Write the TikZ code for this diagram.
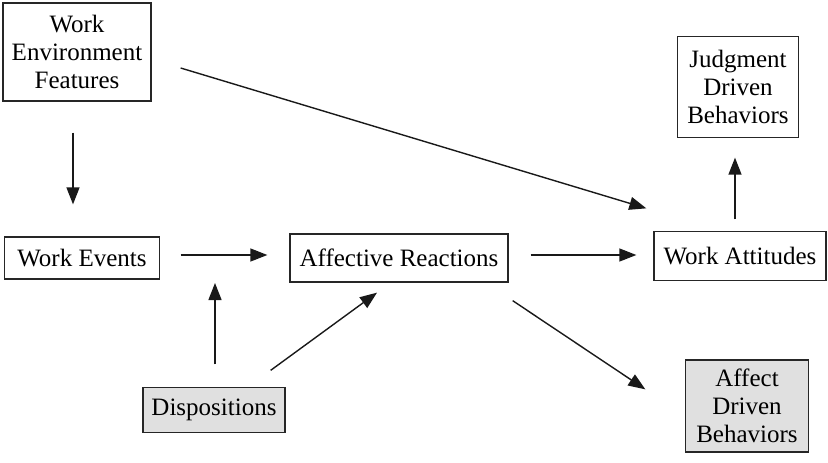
\documentclass[tikz,border=0pt]{standalone}
\usepackage{fontspec}
\setmainfont{Liberation Serif}
\usetikzlibrary{arrows.meta}
\begin{document}
\begin{tikzpicture}[x=1pt,y=-1pt,
  box/.style={draw=black!85,line width=1.3pt,inner sep=0pt,align=center,
    font=\fontsize{25}{28}\selectfont},
  shaded/.style={box,fill=black!12},
  arr/.style={line width=1.4pt,draw=black!90,-{Triangle[length=17pt,width=13pt]}}]
\useasboundingbox (0,0) rectangle (828,463);
\node[box,minimum width=148pt,minimum height=98pt] (wef) at (77,52) {Work\\Environment\\Features};
\node[box,minimum width=121pt,minimum height=101pt] (jdb) at (738,87) {Judgment\\Driven\\Behaviors};
\node[box,minimum width=155pt,minimum height=42pt] (we) at (82,258) {Work Events};
\node[box,minimum width=218pt,minimum height=48pt] (ar) at (399,258) {Affective Reactions};
\node[box,minimum width=172pt,minimum height=49pt] (wa) at (740,256) {Work Attitudes};
\node[shaded,minimum width=142pt,minimum height=45pt] (dis) at (214,410) {Dispositions};
\node[shaded,minimum width=123pt,minimum height=92pt] (adb) at (747,406) {Affect\\Driven\\Behaviors};
\coordinate (mid) at (215,255);
\draw[arr] ([xshift=-4pt,yshift=-31pt]wef.south) -- ([xshift=-9pt,yshift=32pt]we.north);
\draw[arr] ([xshift=29pt,yshift=-16pt]wef.east) -- ([xshift=-7pt,yshift=22.5pt]wa.north west);
\draw[arr] ([xshift=20.5pt,yshift=3pt]we.east) -- ([xshift=-22pt,yshift=3pt]ar.west);
\draw[arr] ([xshift=22pt,yshift=3pt]ar.east) -- ([xshift=-17pt,yshift=1pt]wa.west);
\draw[arr] ([xshift=-5pt,yshift=11.5pt]wa.north) -- ([xshift=-3pt,yshift=-19.5pt]jdb.south);
\draw[arr,shorten >=28pt] ([xshift=1pt,yshift=22.5pt]dis.north) -- (mid);
\draw[arr] ([xshift=-15pt,yshift=16.5pt]dis.north east) -- ([xshift=-22pt,yshift=-10pt]ar.south);
\draw[arr] ([xshift=4pt,yshift=-18pt]ar.south east) -- ([xshift=-39.5pt,yshift=-30pt]adb.north west);
\end{tikzpicture}
\end{document}
